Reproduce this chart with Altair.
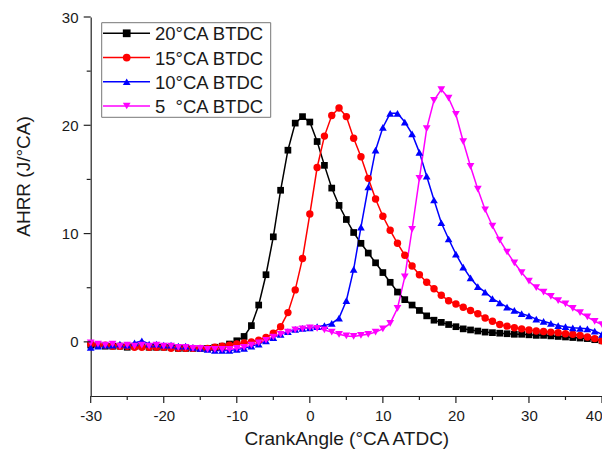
import altair as alt
import pandas as pd

crank = list(range(-30, 41))

labels = ["20°CA BTDC", "15°CA BTDC", "10°CA BTDC", "5\u00a0\u00a0°CA BTDC"]
colors = ["#000000", "#ff0000", "#0000ff", "#ff00ff"]
marker_shapes = ["square", "circle", "triangle-up", "triangle-down"]
marker_sizes = [45, 55, 60, 60]

ahrr_20 = [-0.3, -0.3, -0.4, -0.4, -0.4, -0.5, -0.4, -0.4, -0.5, -0.5,
           -0.5, -0.5, -0.6, -0.6, -0.6, -0.6, -0.6, -0.5, -0.4, -0.2,
           0.1, 0.5, 1.5, 3.4, 6.2, 9.7, 14.0, 17.7, 20.2, 20.8,
           20.3, 18.5, 16.3, 14.2, 12.6, 11.3, 10.1, 9.1, 8.2, 7.3,
           6.4, 5.5, 4.6, 3.9, 3.4, 2.9, 2.4, 2.0, 1.8, 1.6,
           1.4, 1.2, 1.1, 1.0, 0.9, 0.85, 0.8, 0.75, 0.7, 0.7,
           0.65, 0.6, 0.6, 0.55, 0.5, 0.45, 0.4, 0.35, 0.3, 0.2, 0.1]
ahrr_15 = [-0.2, -0.3, -0.3, -0.4, -0.4, -0.4, -0.5, -0.5, -0.5, -0.5,
           -0.5, -0.6, -0.6, -0.6, -0.6, -0.6, -0.6, -0.5, -0.4, -0.3,
           -0.2, -0.1, 0.0, 0.15, 0.4, 0.8, 1.4, 2.7, 4.8, 7.7,
           11.8, 16.1, 19.0, 20.9, 21.6, 20.8, 18.8, 17.1, 15.1, 13.2,
           11.6, 10.3, 9.1, 8.0, 7.0, 6.2, 5.5, 4.9, 4.3, 3.8,
           3.5, 3.2, 2.9, 2.6, 2.2, 1.9, 1.6, 1.45, 1.3, 1.2,
           1.1, 1.0, 0.95, 0.9, 0.85, 0.75, 0.7, 0.6, 0.45, 0.3, 0.1]
ahrr_10 = [-0.5, -0.4, -0.3, -0.3, -0.2, -0.3, -0.1, 0.1, -0.2, -0.2,
           -0.3, -0.3, -0.4, -0.4, -0.5, -0.6, -0.7, -0.8, -0.8, -0.8,
           -0.7, -0.6, -0.4, -0.2, 0.1, 0.4, 0.7, 0.95, 1.15, 1.25,
           1.3, 1.4, 1.5, 1.7, 2.2, 3.8, 6.7, 10.6, 14.3, 17.7,
           19.8, 21.1, 21.1, 20.3, 19.2, 17.5, 15.3, 13.1, 11.0, 9.5,
           8.1, 6.9, 5.9, 5.1, 4.6, 4.0, 3.6, 3.2, 2.9, 2.6,
           2.4, 2.1, 1.9, 1.7, 1.5, 1.4, 1.3, 1.25, 1.2, 1.0, 0.7]
ahrr_5 = [-0.1, -0.2, -0.3, -0.2, -0.4, -0.3, -0.4, -0.3, -0.4, -0.3,
          -0.4, -0.4, -0.5, -0.5, -0.6, -0.6, -0.7, -0.7, -0.7, -0.7,
          -0.6, -0.5, -0.3, -0.1, 0.15, 0.45, 0.7, 0.9, 1.1, 1.2,
          1.3, 1.25, 1.1, 0.9, 0.7, 0.55, 0.5, 0.6, 0.7, 0.9,
          1.2, 1.7, 3.1, 6.0, 10.4, 15.1, 19.7, 22.3, 23.3, 22.5,
          21.0, 18.5, 16.2, 14.1, 12.2, 10.7, 9.4, 8.3, 7.3, 6.4,
          5.6, 5.0, 4.6, 4.2, 3.8, 3.5, 3.1, 2.7, 2.3, 1.9, 1.6]

series_values = [ahrr_20, ahrr_15, ahrr_10, ahrr_5]

x_major = [-30, -20, -10, 0, 10, 20, 30, 40]
x_minor = [-25, -15, -5, 5, 15, 25, 35]
y_major = [0, 10, 20, 30]
y_minor = [5, 15, 25]

rows = []
for lab, vals in zip(labels, series_values):
    for cx, v in zip(crank, vals):
        rows.append({"x": cx, "y": v, "series": lab})
df = pd.DataFrame(rows)

legend_df = pd.DataFrame({"series": labels, "idx": list(range(len(labels)))})
legend_box_df = pd.DataFrame({"box": [1]})

FONT = "Liberation Sans"
TXT = "#1a1a1a"
AX = "#222222"
W, H = 511.3, 379

x_scale = alt.Scale(domain=[-30, 40], nice=False, zero=False)
y_scale = alt.Scale(domain=[-5, 30], nice=False, zero=False)
color_scale = alt.Scale(domain=labels, range=colors)

x_axis = alt.Axis(
    orient="bottom", values=x_major, tickSize=7, ticks=True, tickOpacity=0,
    domainColor=AX, domainWidth=1.2, grid=False,
    labelExpr="'' + datum.value",
    labelAlign={"condition": {"test": "datum.value === 40", "value": "right"}, "value": "center"},
    labelPadding=5.5, labelFontSize=15, labelFont=FONT, labelColor=TXT,
    labelFlush=False, labelOverlap=False,
    title="CrankAngle (°CA ATDC)", titleFontSize=19, titlePadding=6, titleFont=FONT,
    titleColor=TXT, titleFontWeight="normal",
)
y_axis = alt.Axis(
    orient="left", values=y_major, tickSize=7, ticks=True, tickOpacity=0,
    domainColor=AX, domainWidth=1.2, grid=False,
    labelExpr="'' + datum.value",
    labelPadding=5.7, labelFontSize=15, labelFont=FONT, labelColor=TXT, labelOverlap=False,
    title="AHRR (J/°CA)", titleFontSize=19, titleFont=FONT, titleColor=TXT,
    titleFontWeight="normal", titleX=-67, titleY=159, titleAngle=270,
    titleAlign="center", titleBaseline="middle",
)

base = alt.Chart(df)

lines = base.mark_line(strokeWidth=1.5).encode(
    x=alt.X("x:Q", scale=x_scale, axis=x_axis),
    y=alt.Y("y:Q", scale=y_scale, axis=y_axis),
    color=alt.Color("series:N", scale=color_scale, legend=None),
    detail="series:N",
)

point_layers = []
for lab, shp, sz in zip(labels, marker_shapes, marker_sizes):
    point_layers.append(
        base.transform_filter(alt.datum.series == lab)
        .mark_point(filled=True, shape=shp, size=sz, opacity=1)
        .encode(
            x=alt.X("x:Q", scale=x_scale, axis=None),
            y=alt.Y("y:Q", scale=y_scale, axis=None),
            color=alt.Color("series:N", scale=color_scale, legend=None),
        )
    )

# axis tick marks (major and minor), positioned through the data scales
def x_ticks(vals, length):
    return alt.Chart(pd.DataFrame({"t": vals})).mark_rule(
        color=AX, strokeWidth=1.2, clip=False
    ).encode(
        x=alt.X("t:Q", scale=x_scale, axis=None),
        y=alt.value(H), y2=alt.value(H + length),
    )

def y_ticks(vals, length):
    return alt.Chart(pd.DataFrame({"t": vals})).mark_rule(
        color=AX, strokeWidth=1.2, clip=False
    ).encode(
        y=alt.Y("t:Q", scale=y_scale, axis=None),
        x=alt.value(0), x2=alt.value(-length),
    )

tick_layers = [x_ticks(x_major, 7), x_ticks(x_minor, 4),
               y_ticks(y_major, 7), y_ticks(y_minor, 4)]

# legend (box, line segment, marker, label for each series)
leg_y = alt.Y("idx:Q", scale=alt.Scale(domain=[0, 3], range=[16.3, 89]), axis=None)

legend_box = alt.Chart(legend_box_df).mark_rect(
    fill="white", stroke="#777777", strokeWidth=1
).encode(x=alt.value(11), x2=alt.value(180), y=alt.value(5.7), y2=alt.value(100.3))

legend_lines = alt.Chart(legend_df).mark_rule(strokeWidth=1.5).encode(
    x=alt.value(12.3), x2=alt.value(59.3), y=leg_y,
    color=alt.Color("series:N", scale=color_scale, legend=None),
)
legend_marks = alt.Chart(legend_df).mark_point(filled=True, size=60, opacity=1).encode(
    x=alt.value(36), y=leg_y,
    color=alt.Color("series:N", scale=color_scale, legend=None),
    shape=alt.Shape("series:N", scale=alt.Scale(domain=labels, range=marker_shapes), legend=None),
)
legend_text = alt.Chart(legend_df).mark_text(
    align="left", baseline="middle", font=FONT, fontSize=18.5, color=TXT, dy=1
).encode(x=alt.value(64.3), y=leg_y, text="series:N")

chart = alt.layer(
    lines, *point_layers, *tick_layers,
    legend_box, legend_lines, legend_marks, legend_text,
).resolve_scale(y="independent").resolve_axis(
    x="independent", y="independent"
).properties(
    width=W, height=H, background="white",
    autosize=alt.AutoSizeParams(type="none"),
    padding={"left": 82.7, "top": 9, "right": 0, "bottom": 56},
).configure_view(stroke=None)

chart.save("out.html", embed_options={"renderer": "svg", "actions": False})
